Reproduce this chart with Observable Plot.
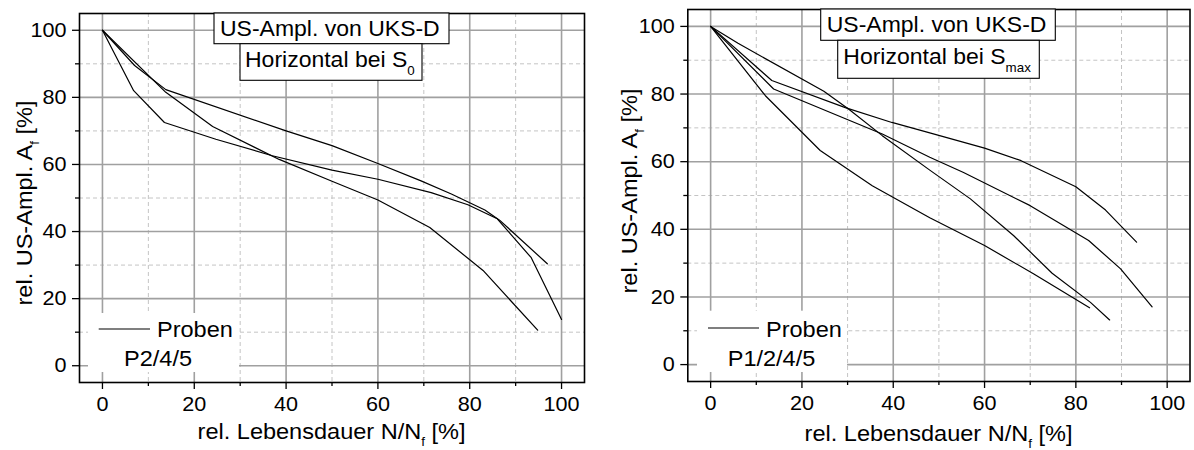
<!DOCTYPE html>
<html><head><meta charset="utf-8">
<script src="https://cdn.jsdelivr.net/npm/d3@7"></script>
<script src="https://cdn.jsdelivr.net/npm/@observablehq/plot@0.6"></script>
<style>
body{margin:0;background:#fff;}
#wrap{position:relative;width:1194px;height:450px;background:#fff;}
#wrap svg{position:absolute;top:0;}
</style></head><body><div id="wrap"></div>
<script>
// ---- data ----
const majorTicks = [0, 20, 40, 60, 80, 100];
const minorTicks = [10, 30, 50, 70, 90];

// left panel: Horizontal bei S0, Proben P2/4/5
const leftCurve1 = [[0,100],[6.8,82],[13.5,72.5],[24.7,67.5],[37,62.6],[50,58.3],[60,55.6],[71.6,51.6],[79.6,48],[86,43.8],[93.4,32.2],[100,13.8]];
const leftCurve2 = [[0,100],[13.8,81.5],[24,71.3],[38.5,61.5],[50,55],[60,49.4],[71.3,41.2],[82.9,28.4],[94.8,10.6]];
const leftCurve3 = [[0,100],[7,89.5],[13.8,82.3],[40,70],[50,65.6],[60,60.3],[69.4,55.1],[76,51.2],[83.3,46.4],[86.5,43.4],[96.9,30.4]];

// right panel: Horizontal bei Smax, Proben P1/2/4/5
const rightCurve1 = [[0,100],[6,95],[24.8,80.8],[30.2,75.6],[37.6,67.7],[48,57.5],[56.9,49],[66.4,38.1],[74.8,27],[83.2,18.4],[87.4,13.2]];
const rightCurve2 = [[0,100],[13.4,84],[29.5,76],[39.7,71.6],[48,68.5],[60,64],[68,60.3],[80,52.6],[86.5,45.7],[93.3,36.2]];
const rightCurve3 = [[0,100],[13.8,81.5],[37.6,68.2],[48,61.3],[55.4,56.8],[70,47],[82.8,36.7],[89.8,28.3],[96.7,17.1]];
const rightCurve4 = [[0,100],[12,79.5],[24,63.3],[35.4,52.9],[48,43.4],[60,35.2],[70.8,26.8],[83,16.8]];

const titleText = "US-Ampl. von UKS-D";
const subtitleText = "Horizontal bei S";
const legendLabel = "Proben";
const xLabelMain = "rel. Lebensdauer N/N";
const yLabelMain = "rel. US-Ampl. A";

const FONT = "'Liberation Sans', Arial, Helvetica, sans-serif";
const SX = 1.07;
const SXT = 1.03;

function panel(cfg) {
  const data = cfg.curves.flatMap((c, i) => c.map(([x, y]) => ({x, y, id: i})));
  const svg = Plot.plot({
    width: cfg.width, height: 450,
    marginLeft: cfg.ml, marginRight: cfg.mr, marginTop: cfg.mt, marginBottom: cfg.mb,
    x: {domain: [-5, 105]},
    y: {domain: [-5, 105]},
    style: {fontFamily: FONT, fontSize: "21px", color: "black", background: "white", overflow: "visible"},
    marks: [
      Plot.ruleX(minorTicks, {stroke: "#c4c4c4", strokeWidth: 1, strokeDasharray: "4,3"}),
      Plot.ruleY(minorTicks, {stroke: "#c4c4c4", strokeWidth: 1, strokeDasharray: "4,3"}),
      Plot.ruleX(majorTicks, {stroke: "#a0a0a0", strokeWidth: 1.6}),
      Plot.ruleY(majorTicks, {stroke: "#a0a0a0", strokeWidth: 1.6}),
      Plot.axisX({ticks: majorTicks, tickSize: 7, tickPadding: 7, label: null, stroke: "black", strokeWidth: 1.3, tickFormat: d => String(d)}),
      Plot.axisX({ticks: minorTicks, tickSize: 4, tickPadding: 0, label: null, stroke: "black", strokeWidth: 1.3, tickFormat: () => ""}),
      Plot.axisY({ticks: majorTicks, tickSize: 7, tickPadding: 6, label: null, stroke: "black", strokeWidth: 1.3, tickFormat: d => String(d)}),
      Plot.axisY({ticks: minorTicks, tickSize: 4, tickPadding: 0, label: null, stroke: "black", strokeWidth: 1.3, tickFormat: () => ""}),
      Plot.line(data, {x: "x", y: "y", z: "id", stroke: "black", strokeWidth: 1.2}),
      Plot.frame({stroke: "black", strokeWidth: 1.6})
    ]
  });
  // slight horizontal stretch of tick labels like the reference font
  svg.querySelectorAll("text").forEach(t => {
    const tr = t.getAttribute("transform");
    if (tr) t.setAttribute("transform", tr + ` scale(${SXT},1)`);
  });
  const s = d3.select(svg);
  const txt = (x, y, size, anchor) => s.append("text")
    .attr("transform", `translate(${x},${y}) scale(${SX},1)`)
    .attr("font-family", FONT).attr("font-size", size).attr("fill", "black")
    .attr("text-anchor", anchor || "start");

  // legend
  const L = cfg.legend;
  s.append("rect").attr("x", L.x).attr("y", L.y).attr("width", L.w).attr("height", L.h).attr("fill", "white");
  s.append("line").attr("x1", L.lx1).attr("x2", L.lx2).attr("y1", L.ly).attr("y2", L.ly).attr("stroke", "black").attr("stroke-width", 1.2);
  txt(L.tx, L.ty, 22).text(legendLabel);
  txt(L.t2x, L.t2y, 22).text(cfg.samples);

  // title boxes
  const T = cfg.title;
  s.append("rect").attr("x", T.b1[0]).attr("y", T.b1[1]).attr("width", T.b1[2]).attr("height", T.b1[3]).attr("fill", "white").attr("stroke", "black").attr("stroke-width", 1.1);
  s.append("rect").attr("x", T.b2[0]).attr("y", T.b2[1]).attr("width", T.b2[2]).attr("height", T.b2[3]).attr("fill", "white").attr("stroke", "black").attr("stroke-width", 1.1);
  txt(T.t1[0], T.t1[1], 21.5).text(titleText);
  const t2 = txt(T.t2[0], T.t2[1], 21.5);
  t2.append("tspan").text(subtitleText);
  t2.append("tspan").attr("font-size", 12.5).attr("dy", T.subDy).text(cfg.sub);

  // axis labels
  const xl = txt(cfg.xLab[0], cfg.xLab[1], 22, "middle");
  xl.append("tspan").text(xLabelMain);
  xl.append("tspan").attr("font-size", 12.5).attr("dy", 7).text("f");
  xl.append("tspan").attr("dy", -7).text(" [%]");
  const yl = s.append("text")
    .attr("transform", `translate(${cfg.yLab[0]},${cfg.yLab[1]}) rotate(-90) scale(${SX},1)`)
    .attr("font-family", FONT).attr("font-size", 22).attr("fill", "black").attr("text-anchor", "middle");
  yl.append("tspan").text(yLabelMain);
  yl.append("tspan").attr("font-size", 12.5).attr("dy", 7).text("f");
  yl.append("tspan").attr("dy", -7).text(" [%]");

  svg.style.left = cfg.left + "px";
  return svg;
}

const wrap = document.getElementById("wrap");
wrap.appendChild(panel({
  left: 0, width: 597, ml: 79, mr: 13, mt: 13, mb: 68,
  curves: [leftCurve1, leftCurve2, leftCurve3],
  samples: "P2/4/5", sub: "0",
  legend: {x: 88, y: 313, w: 151, h: 59, lx1: 98.7, lx2: 150, ly: 329, tx: 157, ty: 337, t2x: 124, t2y: 365.7},
  title: {b1: [214, 13, 235, 30.7], b2: [240, 43.7, 182, 36.6], t1: [220, 36], t2: [245, 66.7], subDy: 8},
  xLab: [331.5, 439], yLab: [32, 203]
}));
wrap.appendChild(panel({
  left: 597, width: 597, ml: 90.3, mr: 4.5, mt: 9, mb: 69,
  curves: [rightCurve1, rightCurve2, rightCurve3, rightCurve4],
  samples: "P1/2/4/5", sub: "max",
  legend: {x: 100, y: 310.7, w: 150, h: 61.3, lx1: 111, lx2: 162, ly: 328, tx: 169, ty: 337, t2x: 130.7, t2y: 365.7},
  title: {b1: [223.7, 9, 234.6, 31.3], b2: [240.7, 40.3, 201.6, 38], t1: [229.7, 31.7], t2: [246.3, 64], subDy: 7.5},
  xLab: [341.5, 441], yLab: [39.7, 191]
}));
</script></body></html>
